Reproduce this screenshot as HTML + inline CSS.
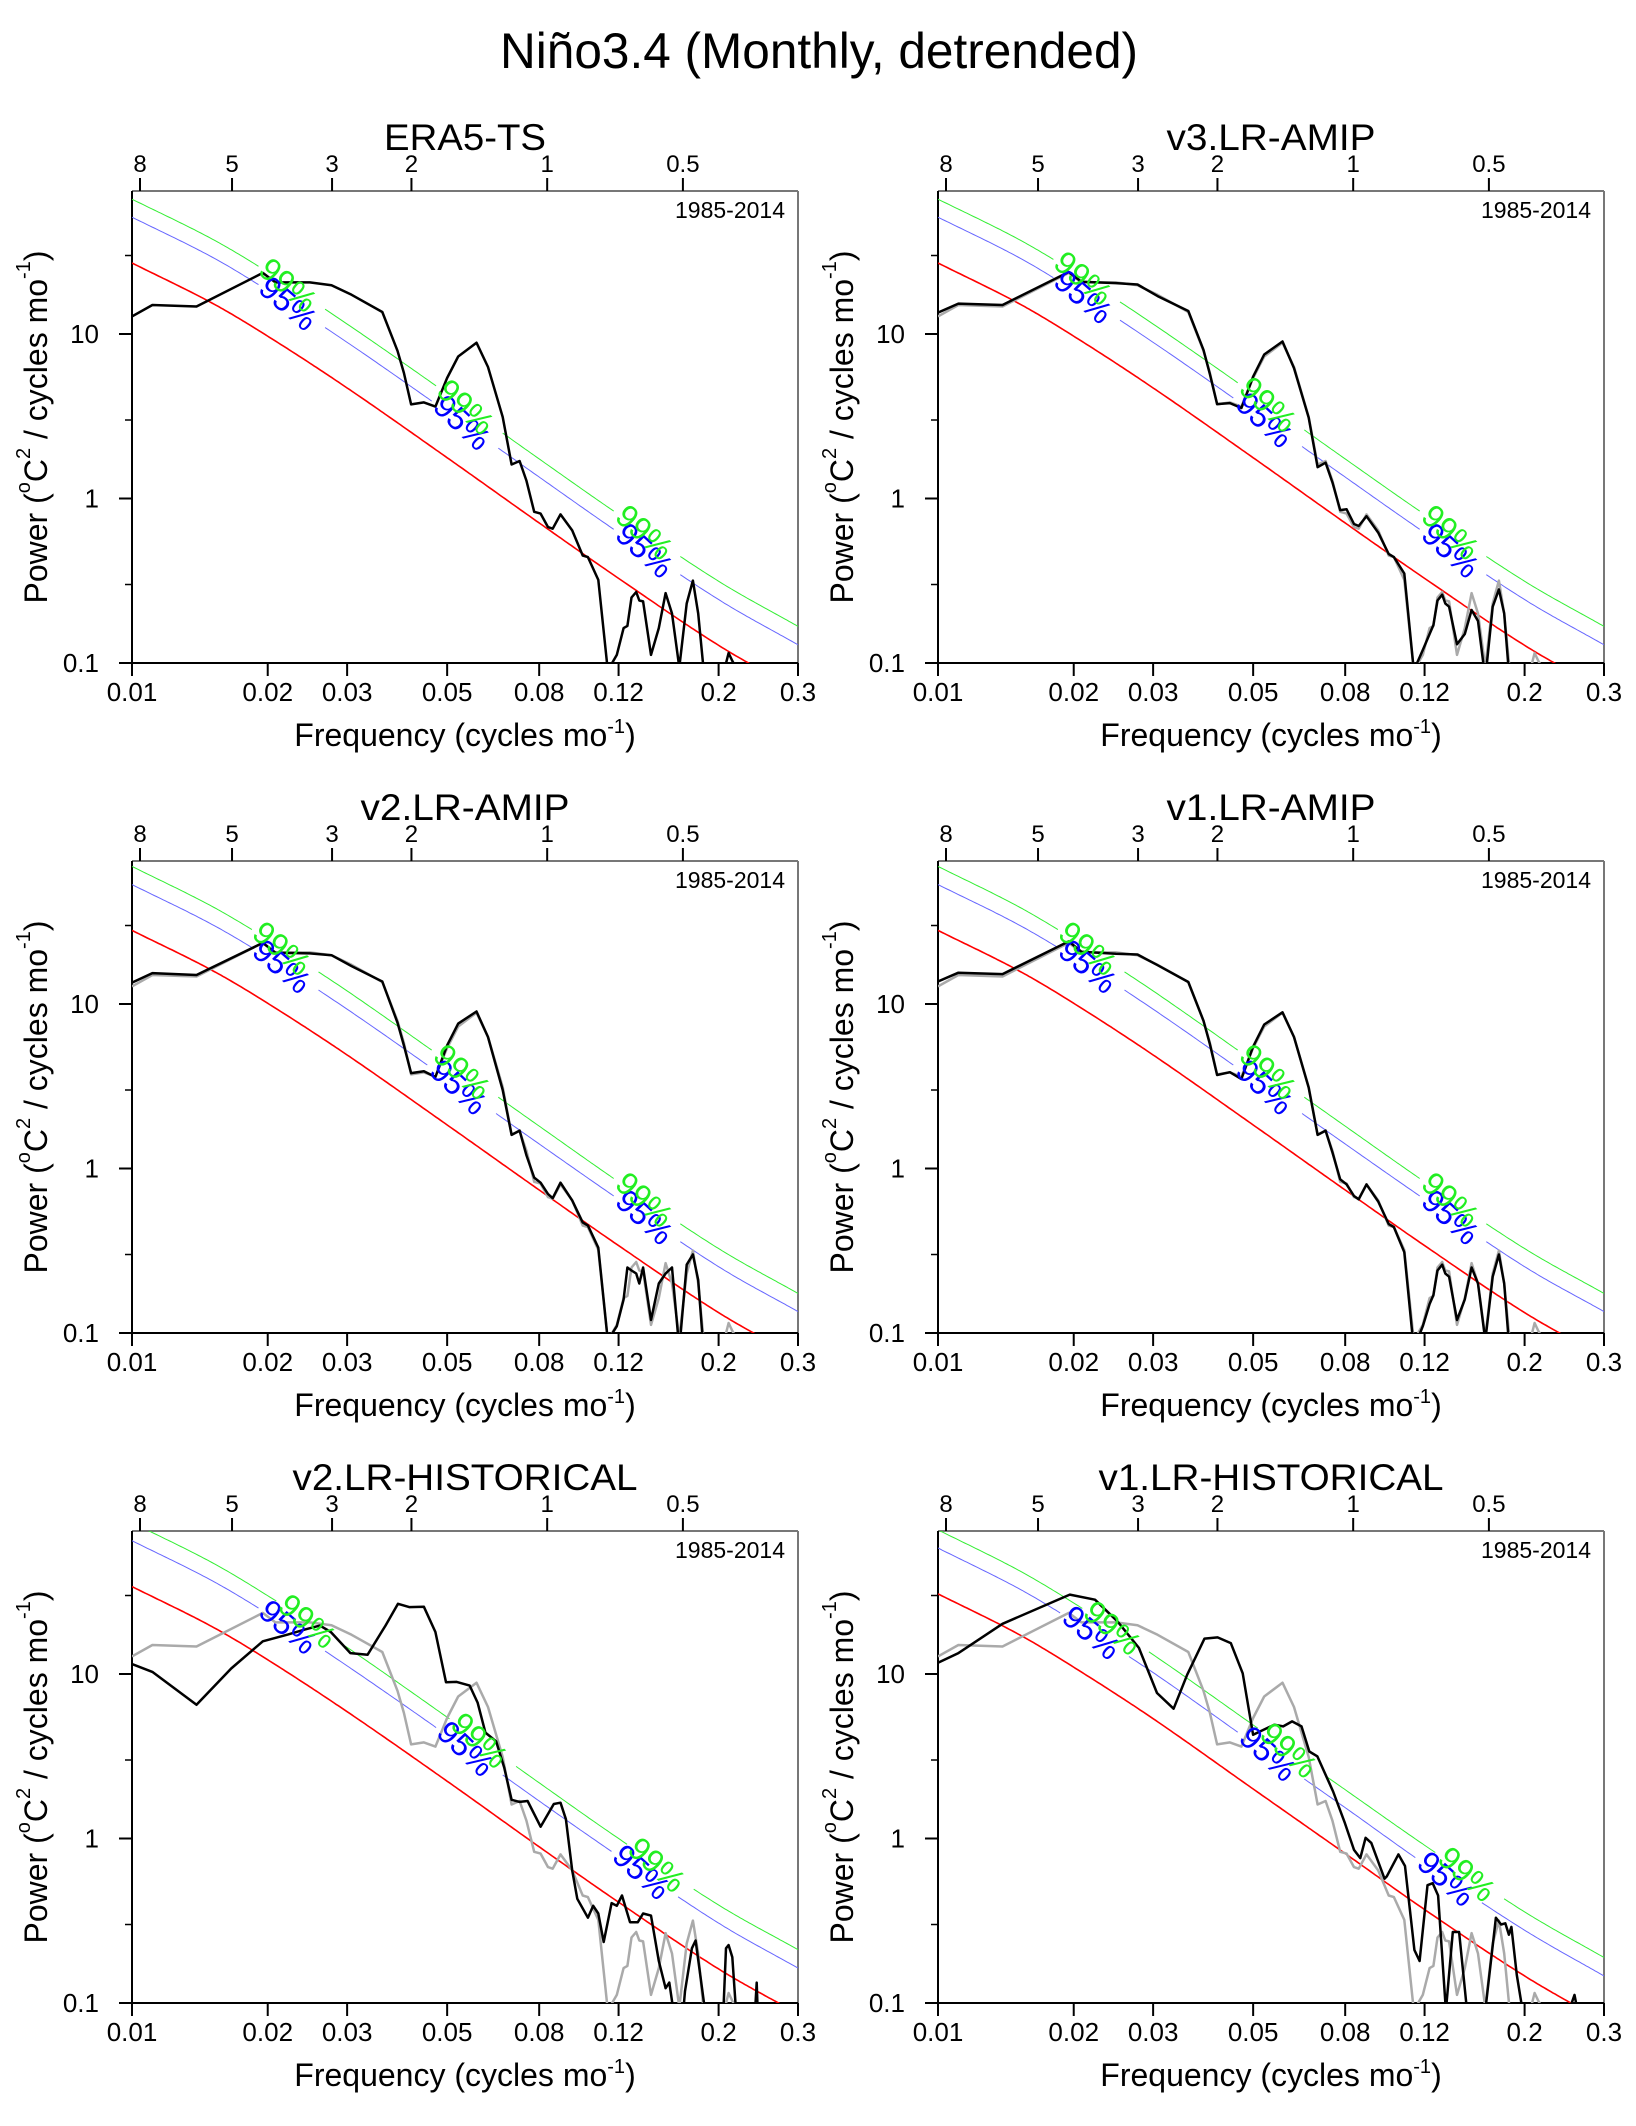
<!DOCTYPE html>
<html><head><meta charset="utf-8"><style>
html,body{margin:0;padding:0;background:#fff;}
svg{display:block;font-family:"Liberation Sans",sans-serif;}
</style></head><body>
<svg id="fig" width="1636" height="2126" viewBox="0 0 1636 2126" xmlns="http://www.w3.org/2000/svg">
<text x="819" y="68" font-size="50" text-anchor="middle" textLength="638" lengthAdjust="spacingAndGlyphs">Niño3.4 (Monthly, detrended)</text>
</svg>
<script>
// ---- data ----
const xTicks = [0.01,0.02,0.03,0.05,0.08,0.12,0.2,0.3];
const xTickLabels = ["0.01","0.02","0.03","0.05","0.08","0.12","0.2","0.3"];
const periodTicks = [8,5,3,2,1,0.5];
const periodLabels = ["8","5","3","2","1","0.5"];
const yTicks = [0.1,1,10];
const yTickLabels = ["0.1","1","10"];
const yMinorTicks = [0.3,3,30];
const rnFreq = [0.01,0.015,0.02,0.03,0.05,0.08,0.12,0.2,0.3];

const eraFreq = [0.0100,0.0111,0.0139,0.0195,0.0208,0.0248,0.0277,0.0307,0.0359,0.0388,0.0401,0.0416,0.0444,0.0471,0.0500,0.0529,0.0581,0.0616,0.0664,0.0695,0.0724,0.0750,0.0780,0.0806,0.0837,0.0857,0.0892,0.0947,0.0999,0.1026,0.1082,0.1136,0.1189,0.1231,0.1255,0.1282,0.1313,0.1334,0.1360,0.1416,0.1474,0.1526,0.1576,0.1636,0.1699,0.1754,0.1802,0.1851,0.1950,0.2105,0.2145,0.2186,0.2500,0.3000];
const eraPower = [12.8,15.0,14.7,23.5,20.6,20.6,19.8,17.3,13.6,7.9,5.8,3.73,3.84,3.62,5.4,7.3,8.85,6.3,3.13,1.61,1.69,1.28,0.83,0.81,0.67,0.655,0.80,0.64,0.45,0.44,0.32,0.09,0.112,0.163,0.168,0.25,0.27,0.24,0.237,0.112,0.163,0.266,0.2,0.094,0.23,0.317,0.2,0.094,0.05,0.115,0.103,0.094,0.05,0.05];
const v3amipPower = [13.5,15.3,15.0,23.8,20.8,20.4,20.0,17.0,13.8,8.0,5.7,3.75,3.8,3.55,5.5,7.5,9.0,6.2,3.1,1.55,1.65,1.25,0.85,0.86,0.70,0.68,0.78,0.62,0.46,0.44,0.35,0.09,0.12,0.15,0.17,0.24,0.26,0.23,0.22,0.13,0.15,0.21,0.18,0.08,0.22,0.28,0.2,0.08,0.05,0.05,0.05,0.05,0.05,0.05];
const v2amipPower = [13.5,15.4,15.0,23.5,20.5,20.3,19.8,17.0,13.7,7.7,5.6,3.8,3.9,3.6,5.6,7.6,9.0,6.3,3.0,1.6,1.7,1.2,0.88,0.82,0.70,0.66,0.82,0.64,0.47,0.45,0.33,0.09,0.11,0.16,0.25,0.24,0.23,0.2,0.25,0.12,0.2,0.23,0.25,0.08,0.26,0.3,0.21,0.08,0.05,0.05,0.05,0.05,0.05,0.05];
const v1amipPower = [13.7,15.5,15.2,24.0,20.8,20.2,20.0,17.2,13.6,7.9,5.7,3.7,3.85,3.5,5.5,7.5,8.9,6.3,3.1,1.6,1.7,1.25,0.86,0.8,0.68,0.65,0.8,0.63,0.46,0.44,0.31,0.08,0.11,0.15,0.17,0.24,0.26,0.23,0.22,0.12,0.16,0.25,0.2,0.09,0.22,0.3,0.2,0.08,0.05,0.05,0.05,0.05,0.05,0.05];
const v2histFreq = [0.0100,0.0111,0.0139,0.0166,0.0195,0.0222,0.0241,0.0261,0.0276,0.0305,0.0333,0.0365,0.0389,0.0412,0.0444,0.0471,0.0497,0.0525,0.0561,0.0584,0.0608,0.0642,0.0669,0.0695,0.0724,0.0754,0.0806,0.0862,0.0892,0.0917,0.0947,0.0972,0.1026,0.1054,0.1082,0.1112,0.1158,0.1189,0.1221,0.1272,0.1324,0.1360,0.1416,0.1474,0.1526,0.1555,0.1588,0.1640,0.1685,0.1745,0.1778,0.1826,0.1866,0.1950,0.2050,0.2077,0.2105,0.2145,0.2186,0.2380,0.2430,0.2460,0.3000];
const v2histPower = [11.5,10.3,6.5,10.8,15.8,17.4,18.6,19.7,18.0,13.4,13.1,19.7,26.7,25.5,25.6,18.0,8.9,8.95,8.5,6.7,4.4,3.9,2.7,1.72,1.67,1.69,1.18,1.62,1.65,1.31,0.64,0.43,0.33,0.39,0.35,0.235,0.405,0.39,0.45,0.31,0.31,0.35,0.34,0.18,0.123,0.133,0.09,0.05,0.118,0.215,0.24,0.14,0.09,0.05,0.09,0.215,0.225,0.19,0.09,0.05,0.133,0.05,0.05];
const v1histFreq = [0.0100,0.0111,0.0139,0.0196,0.0223,0.0250,0.0279,0.0306,0.0333,0.0357,0.0390,0.0417,0.0446,0.0474,0.0500,0.0557,0.0583,0.0610,0.0640,0.0666,0.0694,0.0752,0.0799,0.0837,0.0864,0.0888,0.0914,0.0978,0.0990,0.1050,0.1086,0.1139,0.1170,0.1218,0.1251,0.1286,0.1338,0.1386,0.1431,0.1490,0.1636,0.1727,0.1774,0.1812,0.1846,0.1870,0.1922,0.1980,0.2510,0.2580,0.2620,0.3000];
const v1histPower = [11.7,13.4,20.2,30.4,28.3,20.9,14.4,7.66,6.15,9.9,16.4,16.7,15.4,10.1,4.27,4.92,4.8,5.15,4.8,3.38,3.16,1.93,1.24,0.853,0.76,1.01,0.94,0.57,0.59,0.80,0.68,0.21,0.18,0.52,0.535,0.45,0.09,0.27,0.27,0.09,0.09,0.33,0.30,0.305,0.26,0.29,0.148,0.09,0.09,0.112,0.09,0.05];

const eraRed = [27,15.5,9.7,4.7,1.77,0.71,0.327,0.128,0.068];
const eraBlue = [51.3,29.5,18.4,8.9,3.36,1.35,0.62,0.243,0.129];
const eraGreen = [66,38,23.8,11.5,4.34,1.74,0.80,0.314,0.167];
const v3Red = [27,15.5,9.7,4.7,1.77,0.71,0.327,0.128,0.068];
const v3Blue = [51.3,29.5,18.4,8.9,3.36,1.35,0.62,0.243,0.129];
const v3Green = [66,38,23.8,11.5,4.34,1.74,0.80,0.314,0.167];
const v2Red = [28,16.1,10.1,4.9,1.84,0.74,0.34,0.133,0.071];
const v2Blue = [53.2,30.6,19.2,9.3,3.5,1.41,0.65,0.253,0.135];
const v2Green = [68.6,39.4,24.7,12.0,4.5,1.81,0.83,0.326,0.174];
const v1Red = [28,16.1,10.1,4.9,1.84,0.74,0.34,0.133,0.071];
const v1Blue = [53.2,30.6,19.2,9.3,3.5,1.41,0.65,0.253,0.135];
const v1Green = [68.6,39.4,24.7,12.0,4.5,1.81,0.83,0.326,0.174];
const v2hRed = [34,19.5,12.2,5.9,2.23,0.89,0.41,0.161,0.086];
const v2hBlue = [64.6,37.1,23.2,11.2,4.24,1.69,0.78,0.306,0.163];
const v2hGreen = [83.3,47.8,29.9,14.5,5.46,2.18,1.0,0.394,0.211];
const v1hRed = [30.7,17.6,11.0,5.35,2.0,0.81,0.37,0.146,0.077];
const v1hBlue = [58.3,33.4,20.9,10.2,3.8,1.54,0.70,0.277,0.146];
const v1hGreen = [75.2,43.1,27.0,13.1,4.9,1.98,0.91,0.358,0.189];

const panels = [
 {name:"era5-ts",title:"ERA5-TS",col:0,row:0,freq:eraFreq,power:eraPower,gray:null,red:eraRed,blue:eraBlue,green:eraGreen,l99:[0.0222,0.055,0.137],l95:[0.0222,0.054,0.137],tw:162},
 {name:"v3-lr-amip",title:"v3.LR-AMIP",col:1,row:0,freq:eraFreq,power:v3amipPower,gray:eraPower,red:v3Red,blue:v3Blue,green:v3Green,l99:[0.021,0.054,0.137],l95:[0.021,0.053,0.137],tw:209},
 {name:"v2-lr-amip",title:"v2.LR-AMIP",col:0,row:1,freq:eraFreq,power:v2amipPower,gray:eraPower,red:v2Red,blue:v2Blue,green:v2Green,l99:[0.0215,0.054,0.137],l95:[0.0215,0.053,0.137],tw:209},
 {name:"v1-lr-amip",title:"v1.LR-AMIP",col:1,row:1,freq:eraFreq,power:v1amipPower,gray:eraPower,red:v1Red,blue:v1Blue,green:v1Green,l99:[0.0215,0.054,0.137],l95:[0.0215,0.053,0.137],tw:209},
 {name:"v2-lr-historical",title:"v2.LR-HISTORICAL",col:0,row:2,freq:v2histFreq,power:v2histPower,gray:eraPower,red:v2hRed,blue:v2hBlue,green:v2hGreen,l99:[0.0245,0.059,0.146],l95:[0.0222,0.055,0.135],tw:345},
 {name:"v1-lr-historical",title:"v1.LR-HISTORICAL",col:1,row:2,freq:v1histFreq,power:v1histPower,gray:eraPower,red:v1hRed,blue:v1hBlue,green:v1hGreen,l99:[0.0244,0.060,0.149],l95:[0.0219,0.054,0.134],tw:345}
];

// ---- layout ----
const NS="http://www.w3.org/2000/svg";
const svg=document.getElementById('fig');
const W=666,H=472,XMIN=0.01,XMAX=0.3,YMIN=0.1,YMAX=74;
const colX=[132,938],rowY=[191,861,1531];
function mk(tag,attrs,parent){const e=document.createElementNS(NS,tag);for(const k in attrs)e.setAttribute(k,attrs[k]);parent.appendChild(e);return e;}
function smoothVal(fs,vs,f){
  const lx=fs.map(Math.log),ly=vs.map(Math.log),x=Math.log(f);
  let i=0;while(i<lx.length-2&&x>lx[i+1])i++;
  const x0=lx[i],x1=lx[i+1],t=(x-x0)/(x1-x0);
  const p0=ly[Math.max(i-1,0)],p1=ly[i],p2=ly[i+1],p3=ly[Math.min(i+2,ly.length-1)];
  const h=x1-x0;
  const m1=i>0?(p2-p0)/(lx[i+1]-lx[i-1])*h:(p2-p1);
  const m2=i+2<lx.length?(p3-p1)/(lx[i+2]-lx[i])*h:(p2-p1);
  const t2=t*t,t3=t2*t;
  return Math.exp((2*t3-3*t2+1)*p1+(t3-2*t2+t)*m1+(-2*t3+3*t2)*p2+(t3-t2)*m2);
}

panels.forEach((p,pi)=>{
  const x0=colX[p.col],y0=rowY[p.row];
  const X=f=>x0+W*Math.log(f/XMIN)/Math.log(XMAX/XMIN);
  const Y=v=>y0+H*(Math.log10(YMAX)-Math.log10(v))/(Math.log10(YMAX)-Math.log10(YMIN));
  const g=mk('g',{},svg);
  
  
  const cid='clip'+pi;
  const cp=mk('clipPath',{id:cid},g);mk('rect',{x:x0,y:y0,width:W,height:H},cp);

  const t=mk('text',{x:x0+W/2,y:y0-41,'font-size':37,'text-anchor':'middle',textLength:p.tw,lengthAdjust:'spacingAndGlyphs'},g);
  t.textContent=p.title;
  
  

  const yr=mk('text',{x:x0+W-13,y:y0+27,'font-size':23,'text-anchor':'end',textLength:110,lengthAdjust:'spacingAndGlyphs'},g);
  yr.textContent='1985-2014';
  
  

  mk('line',{x1:x0,y1:y0,x2:x0+W,y2:y0,stroke:'#777','stroke-width':2},g);
  mk('line',{x1:x0+W,y1:y0,x2:x0+W,y2:y0+H,stroke:'#777','stroke-width':2},g);
  const la=mk('line',{x1:x0,y1:y0,x2:x0,y2:y0+H+1,stroke:'#000','stroke-width':2},g);
  
  
  const ba=mk('line',{x1:x0,y1:y0+H,x2:x0+W,y2:y0+H,stroke:'#000','stroke-width':2},g);
  
  

  xTicks.forEach((f,i)=>{
    mk('line',{x1:X(f),y1:y0+H,x2:X(f),y2:y0+H+13,stroke:'#000','stroke-width':2},g);
    const tl=mk('text',{x:X(f),y:y0+H+38,'font-size':26,'text-anchor':'middle'},g);
    tl.textContent=xTickLabels[i];
    
    
  });
  periodTicks.forEach((pd,i)=>{
    const f=1/(12*pd);
    mk('line',{x1:X(f),y1:y0,x2:X(f),y2:y0-13,stroke:'#000','stroke-width':2},g);
    const tl=mk('text',{x:X(f),y:y0-19,'font-size':24,'text-anchor':'middle'},g);
    tl.textContent=periodLabels[i];
    
    
  });
  yTicks.forEach((v,i)=>{
    mk('line',{x1:x0-13,y1:Y(v),x2:x0,y2:Y(v),stroke:'#000','stroke-width':2},g);
    const tl=mk('text',{x:x0-33,y:Y(v)+9,'font-size':26,'text-anchor':'end'},g);
    tl.textContent=yTickLabels[i];
    
    
  });
  yMinorTicks.forEach(v=>{mk('line',{x1:x0-7,y1:Y(v),x2:x0,y2:Y(v),stroke:'#000','stroke-width':1.5},g);});

  const yl=mk('text',{transform:`translate(${x0-96},${y0+H/2}) rotate(-90)`,'font-size':32,'text-anchor':'middle','dominant-baseline':'central'},g);
  yl.innerHTML='Power (<tspan font-size="20" dy="-12">o</tspan><tspan dy="12">C</tspan><tspan font-size="20" dy="-12">2</tspan><tspan dy="12"> / cycles mo</tspan><tspan font-size="20" dy="-12">-1</tspan><tspan dy="12">)</tspan>';
  
  
  const xl=mk('text',{x:x0+W/2,y:y0+H+83,'font-size':32,'text-anchor':'middle'},g);
  xl.innerHTML='Frequency (cycles mo<tspan font-size="20" dy="-13">-1</tspan><tspan dy="13">)</tspan>';
  
  

  const cg=mk('g',{'clip-path':`url(#${cid})`},g);
  function curve(vals,color,width,gaps,nm){
    let d='',pen=false;
    const N=300;
    for(let k=0;k<=N;k++){
      const f=XMIN*Math.pow(XMAX/XMIN,k/N);
      const inGap=gaps.some(c=>f>c*0.86&&f<c*1.2);
      if(inGap){pen=false;continue;}
      const v=smoothVal(rnFreq,vals,f);
      d+=(pen?'L':'M')+X(f).toFixed(1)+','+Y(v).toFixed(1);pen=true;
    }
    const pth=mk('path',{d:d,fill:'none',stroke:color,'stroke-width':width},cg);
    
    
  }
  curve(p.red,'#ff0000',1.6,[],'red-noise-curve');
  curve(p.blue,'#6666ff',1,p.l95,'confidence-95-curve');
  curve(p.green,'#33ee33',1,p.l99,'confidence-99-curve');

  function line(fs,vs,color,nm){
    const d=fs.map((f,i)=>(i?'L':'M')+X(f).toFixed(1)+','+Y(vs[i]).toFixed(1)).join('');
    const pth=mk('path',{d:d,fill:'none',stroke:color,'stroke-width':2.5,'stroke-linejoin':'round'},cg);
    
    
  }
  if(p.gray) line(eraFreq,p.gray,'#aaaaaa','obs-spectrum-line');
  line(p.freq,p.power,'#000000','spectrum-line');

  function labels(fcs,vals,txt,color,nm){
    fcs.forEach(fc=>{
      const v=smoothVal(rnFreq,vals,fc);
      const fa=fc*0.97,fb=fc*1.03;
      const ang=Math.atan2(Y(smoothVal(rnFreq,vals,fb))-Y(smoothVal(rnFreq,vals,fa)),X(fb)-X(fa))*180/Math.PI+8;
      const tx=mk('text',{transform:`translate(${X(fc).toFixed(1)},${Y(v).toFixed(1)}) rotate(${ang.toFixed(1)})`,'font-size':32,fill:color,'text-anchor':'middle','dominant-baseline':'central'},g);
      tx.textContent=txt;
      
      
    });
  }
  labels(p.l95,p.blue,'95%','#0000ff','label-95');
  labels(p.l99,p.green,'99%','#22ee22','label-99');
});
</script>
</body></html>
